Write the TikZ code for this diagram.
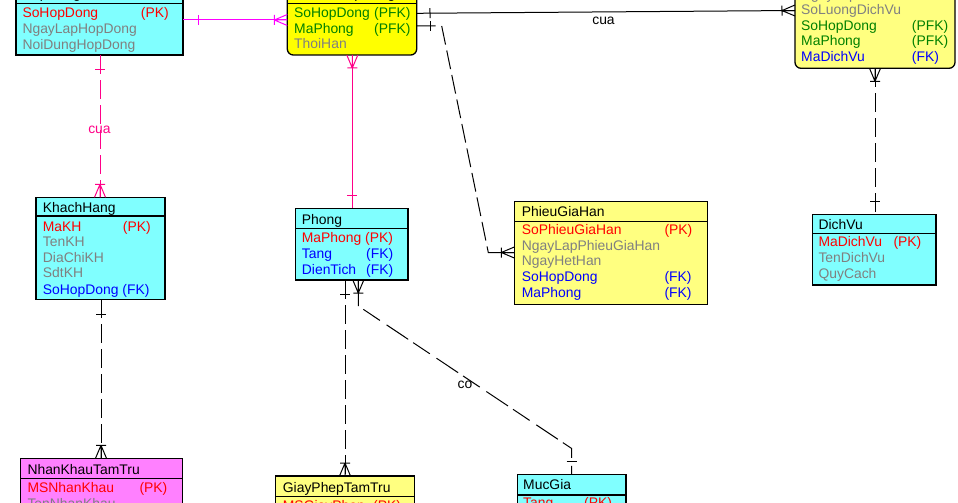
\documentclass[tikz,border=0pt]{standalone}
\usepackage{fontspec}
\setmainfont{Liberation Sans}
\usetikzlibrary{decorations.markings}
\definecolor{cyanf}{HTML}{80FFFF}
\definecolor{yelf}{HTML}{FFFF80}
\definecolor{yelb}{HTML}{FFFF00}
\definecolor{magf}{HTML}{FF80FF}
\definecolor{pkred}{HTML}{FF0000}
\definecolor{attgray}{HTML}{808080}
\definecolor{pfkgreen}{HTML}{008000}
\definecolor{fkblue}{HTML}{0000FF}
\definecolor{relmag}{HTML}{FF00FF}
\definecolor{relpink}{HTML}{FF0088}
\tikzset{
  ebox/.style={draw=black, line width=1.3pt, inner sep=0pt, outer sep=0pt, anchor=north west},
  sepl/.style={draw=black, line width=1.3pt},
  txt/.style={anchor=base west, inner sep=0pt, font=\fontsize{13.9}{16}\selectfont},
  ttl/.style={txt, text=black},
  pk/.style={txt, text=pkred},
  att/.style={txt, text=attgray},
  pfk/.style={txt, text=pfkgreen},
  fk/.style={txt, text=fkblue},
  lbl/.style={anchor=base, inner sep=0pt, font=\fontsize{13.9}{16}\selectfont},
  rel/.style={line width=1pt},
  reldash/.style={line width=1pt, dash pattern=on 19pt off 6pt},
  endcrow/.style={postaction={decorate, decoration={markings, mark=at position 1 with {
      \draw[solid, line width=1pt] (-13pt,0pt) -- (0pt,5.5pt) (-13pt,0pt) -- (0pt,0pt) (-13pt,0pt) -- (0pt,-5.5pt) (-13pt,-5pt) -- (-13pt,5pt);}}}},
  startcrow/.style={postaction={decorate, decoration={markings, mark=at position 0 with {
      \draw[solid, line width=1pt] (13pt,0pt) -- (0pt,5.5pt) (13pt,0pt) -- (0pt,0pt) (13pt,0pt) -- (0pt,-5.5pt) (13pt,-5pt) -- (13pt,5pt);}}}},
  starttick/.style={postaction={decorate, decoration={markings, mark=at position #1 with {
      \draw[solid, line width=1pt] (0pt,-5pt) -- (0pt,5pt);}}}},
  endtick/.style={postaction={decorate, decoration={markings, mark=at position -#1 with {
      \draw[solid, line width=1pt] (0pt,-5pt) -- (0pt,5pt);}}}},
}
\begin{document}
\begin{tikzpicture}[x=1pt, y=-1pt]
\useasboundingbox (0,0) rectangle (958,503);
\clip (0,0) rectangle (958,503);
\fill[white] (0,0) rectangle (958,503);

% ---------- HopDong
\node[ebox, fill=cyanf, minimum width=167pt, minimum height=73pt] (hd) at (16,-18) {};
\draw[sepl] (hd.west |- 0,3.3) -- (hd.east |- 0,3.3);
\node[ttl] (hdt) at (22,-1.5) {HopDong};
\node[pk] (hd1) at (22.3,17.3) {SoHopDong};
\node[pk] (hd1k) at (140.7,17.3) {(PK)};
\node[att] (hd2) at (22.3,33.8) {NgayLapHopDong};
\node[att] (hd3) at (22.3,50) {NoiDungHopDong};

% ---------- ChiTietHopDong
\node[ebox, fill=yelb, rounded corners=6pt, minimum width=129.4pt, minimum height=73pt] (ct) at (287.3,-18) {};
\draw[sepl] (ct.west |- 0,3.3) -- (ct.east |- 0,3.3);
\node[ttl] (ctt) at (293,-1.5) {ChiTietHopDong};
\node[pfk] (ct1) at (294,17.3) {SoHopDong};
\node[pfk] (ct1k) at (374,17.3) {(PFK)};
\node[pfk] (ct2) at (294,33.3) {MaPhong};
\node[pfk] (ct2k) at (374,33.3) {(PFK)};
\node[att] (ct3) at (294,48.8) {ThoiHan};

% ---------- top right
\node[ebox, fill=yelf, rounded corners=6pt, minimum width=160pt, minimum height=128.3pt] (sd) at (795,-60) {};
\draw[sepl] (sd.west |- 0,-22) -- (sd.east |- 0,-22);
\node[ttl] (sdt) at (801,-27) {SuDungDichVu};
\node[att] (sd0) at (801,-0.6) {NgayLap};
\node[att] (sd1) at (801,15) {SoLuongDichVu};
\node[pfk] (sd2) at (801,30.7) {SoHopDong};
\node[pfk] (sd2k) at (911.7,30.7) {(PFK)};
\node[pfk] (sd3) at (801,46) {MaPhong};
\node[pfk] (sd3k) at (911.7,46) {(PFK)};
\node[fk] (sd4) at (801,61.7) {MaDichVu};
\node[fk] (sd4k) at (911.7,61.7) {(FK)};

% ---------- KhachHang
\node[ebox, fill=cyanf, minimum width=129pt, minimum height=102pt] (kh) at (36,197.3) {};
\draw[sepl] (kh.west |- 0,216) -- (kh.east |- 0,216);
\node[ttl] (kht) at (42.7,212.3) {KhachHang};
\node[pk] (kh1) at (42.7,231.7) {MaKH};
\node[pk] (kh1k) at (122.7,231.7) {(PK)};
\node[att] (kh2) at (42.7,246.9) {TenKH};
\node[att] (kh3) at (42.7,262.3) {DiaChiKH};
\node[att] (kh4) at (42.7,277.7) {SdtKH};
\node[fk] (kh5) at (42.7,294) {SoHopDong (FK)};

% ---------- Phong
\node[ebox, fill=cyanf, minimum width=112.3pt, minimum height=71.7pt] (ph) at (295.7,208.3) {};
\draw[sepl] (ph.west |- 0,228.3) -- (ph.east |- 0,228.3);
\node[ttl] (pht) at (301.7,224.3) {Phong};
\node[pk] (ph1) at (301.7,242.3) {MaPhong (PK)};
\node[fk] (ph2) at (301.7,258.3) {Tang};
\node[fk] (ph2k) at (366,258.3) {(FK)};
\node[fk] (ph3) at (301.7,274) {DienTich};
\node[fk] (ph3k) at (366,274) {(FK)};

% ---------- PhieuGiaHan
\node[ebox, fill=yelf, minimum width=193.4pt, minimum height=102.6pt] (pg) at (514.3,201.7) {};
\draw[sepl] (pg.west |- 0,221.7) -- (pg.east |- 0,221.7);
\node[ttl] (pgt) at (521.7,216.7) {PhieuGiaHan};
\node[pk] (pg1) at (521.7,234.3) {SoPhieuGiaHan};
\node[pk] (pg1k) at (664.3,234.3) {(PK)};
\node[att] (pg2) at (521.7,250) {NgayLapPhieuGiaHan};
\node[att] (pg3) at (521.7,265.7) {NgayHetHan};
\node[fk] (pg4) at (521.7,281.7) {SoHopDong};
\node[fk] (pg4k) at (664.3,281.7) {(FK)};
\node[fk] (pg5) at (521.7,297.7) {MaPhong};
\node[fk] (pg5k) at (664.3,297.7) {(FK)};

% ---------- DichVu
\node[ebox, fill=cyanf, minimum width=123.7pt, minimum height=70.7pt] (dv) at (812.3,214.3) {};
\draw[sepl] (dv.west |- 0,233.3) -- (dv.east |- 0,233.3);
\node[ttl] (dvt) at (818.3,229.3) {DichVu};
\node[pk] (dv1) at (818.3,246.7) {MaDichVu};
\node[pk] (dv1k) at (893.3,246.7) {(PK)};
\node[att] (dv2) at (818.3,262.7) {TenDichVu};
\node[att] (dv3) at (818.3,278.3) {QuyCach};

% ---------- NhanKhauTamTru
\node[ebox, fill=magf, minimum width=161.6pt, minimum height=100pt] (nk) at (20.7,458.3) {};
\draw[sepl] (nk.west |- 0,478.3) -- (nk.east |- 0,478.3);
\node[ttl] (nkt) at (27.3,474.3) {NhanKhauTamTru};
\node[pk] (nk1) at (27.3,492.7) {MSNhanKhau};
\node[pk] (nk1k) at (139.3,492.7) {(PK)};
\node[att] (nk2) at (27.3,508.3) {TenNhanKhau};

% ---------- GiayPhepTamTru
\node[ebox, fill=yelf, minimum width=138.6pt, minimum height=100pt] (gp) at (275.7,476) {};
\draw[sepl] (gp.west |- 0,496.7) -- (gp.east |- 0,496.7);
\node[ttl] (gpt) at (282.7,492.3) {GiayPhepTamTru};
\node[pk] (gp1) at (282.7,510.5) {MSGiayPhep};
\node[pk] (gp1k) at (373,510.5) {(PK)};

% ---------- MucGia
\node[ebox, fill=cyanf, minimum width=108.7pt, minimum height=100pt] (mg) at (517.3,474.3) {};
\draw[sepl] (mg.west |- 0,495) -- (mg.east |- 0,495);
\node[ttl] (mgt) at (523,489.3) {MucGia};
\node[pk] (mg1) at (523,507.5) {Tang};
\node[pk] (mg1k) at (584,507.5) {(PK)};

% ---------- connectors
\draw[rel, relmag, starttick=15pt, endcrow] (hd.east |- 0,20) -- (ct.west |- 0,20);
\draw[reldash, relpink, starttick=15pt, endcrow] (hd.south -| 100,0) -- (kh.north -| 100,0);
\node[lbl, text=relpink] (l1) at (99.5,133) {cua};
\draw[rel, relpink, startcrow, endtick=13pt] (ct.south -| 352.3,0) -- (ph.north -| 352.3,0);
\draw[rel, black, starttick=13.3pt, endcrow] (ct.east |- 0,13.3) -- (sd.west |- 0,10.5);
\node[lbl] (l2) at (603.5,25) {cua};
\draw[reldash, black, starttick=13.3pt, endcrow] (ct.east |- 0,26) -- (441.7,26) -- (488.3,252.5) -- (pg.west |- 0,252.5);
\draw[reldash, black, startcrow, endtick=12.6pt] (sd.south -| 875,0) -- (dv.north -| 875,0);
\draw[reldash, black, starttick=14.7pt, endcrow] (kh.south -| 101,0) -- (nk.north -| 101,0);
\draw[reldash, black, starttick=14pt, endcrow] (ph.south -| 345,0) -- (gp.north -| 345,0);
\draw[reldash, black, dash pattern=on 26pt off 6pt on 20pt off 8pt, startcrow, endtick=12.6pt] (ph.south -| 358.3,0) -- (358.3,306) -- (571.7,448.5) -- (mg.north -| 571.7,0);
\node[lbl] (l3) at (465,388) {co};
\end{tikzpicture}
\end{document}
